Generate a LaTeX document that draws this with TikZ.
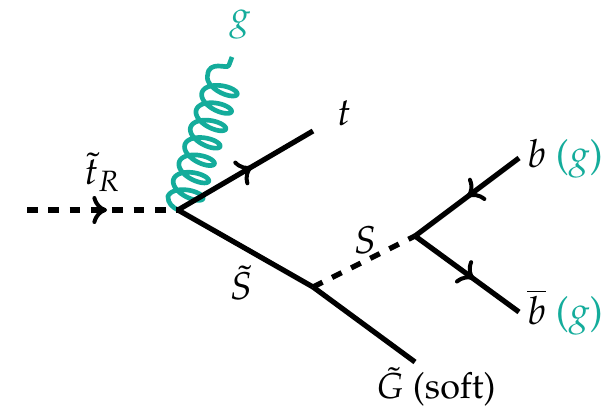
\documentclass[tikz,border=0pt]{standalone}
\usepackage[T1]{fontenc}
\usepackage{mathpazo}
\usetikzlibrary{arrows.meta,decorations.markings}
\definecolor{gluon}{RGB}{20,172,155}
\tikzset{
  line/.style={line width=3.9pt,black},
  sdash/.style={line width=3.9pt,black,dash pattern=on 8pt off 8pt},
  chev/.style={postaction={decorate},decoration={markings,mark=at position #1 with {\arrow[line width=3pt,solid]{Computer Modern Rightarrow[length=11pt,width=21pt]}}}},
  lab/.style={inner sep=0pt,font=\fontsize{29}{32}\selectfont},
  softlab/.style={inner sep=0pt,font=\fontsize{27}{30}\selectfont},
  glu/.style={line width=3.5pt,gluon},
}
\begin{document}
\begin{tikzpicture}[x=0.75pt,y=-0.75pt]
\useasboundingbox (0,0) rectangle (614,409);
\coordinate (in) at (27,210);
\coordinate (A) at (178,210);
\coordinate (top) at (313,131);
\coordinate (B) at (313,287);
\coordinate (soft) at (415,362);
\coordinate (C) at (415,236);
\coordinate (b) at (519,158);
\coordinate (bb) at (519,312);
\coordinate (gend) at (232,57);
\draw[glu,line join=round] (A) .. controls (172,207) and (168,203) .. (168,197)
  -- plot[domain=0:2520,samples=421,variable=\t]
    ({184+0.311*(0.05083*\t+8*sin(\t))-0.95*17*cos(\t)},
     {202-0.95*(0.05083*\t+8*sin(\t))-0.311*17*cos(\t)})
  .. controls (208,68) and (213,66) .. (218,66)
  .. controls (224,66) and (228,68) .. (229,65) -- (gend);
\draw[sdash,chev=0.53] (in) -- (A);
\draw[line,chev=0.55] (A) -- (top);
\draw[line] (A) -- (B);
\draw[line] (B) -- (soft);
\draw[sdash] (B) -- (C);
\draw[line,chev=0.5] (b) -- (C);
\draw[line,chev=0.57] (C) -- (bb);
\node[lab,text=gluon] (lg) at (240,25) {$g$};
\node[lab] (lt) at (344,113) {$t$};
\node[lab] (ltr) at (102,172) {$\tilde t_R$};
\node[lab] (lS) at (241,283) {$\tilde S$};
\node[lab] (lSS) at (365,240) {$S$};
\node[softlab,anchor=base] (lG) at (436,399) {$\tilde G$ (soft)};
\node[lab,anchor=base west] (lb) at (527,168) {$b$ \textcolor{gluon}{($g$)}};
\node[lab,anchor=base west] (lbb) at (527,325) {$\overline{b}$ \textcolor{gluon}{($g$)}};
\end{tikzpicture}
\end{document}
